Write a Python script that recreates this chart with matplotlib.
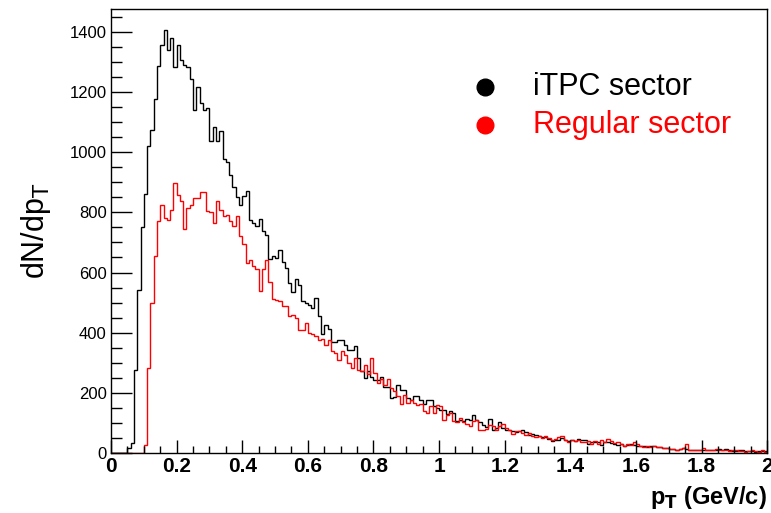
import numpy as np
import matplotlib
matplotlib.use("Agg")
import matplotlib.pyplot as plt
from matplotlib.ticker import MultipleLocator

# ----------------------------
# Data (counts per 0.01 GeV/c bin)
# ----------------------------
PT_MIN, PT_MAX, N_BINS = 0.0, 2.0, 200

itpc_counts = [
    0, 0, 0, 0, 0, 17, 33, 275, 541, 750,
    861, 1020, 1073, 1178, 1288, 1356, 1407, 1341, 1380, 1284,
    1356, 1308, 1290, 1284, 1242, 1140, 1217, 1164, 1140, 1147,
    1037, 1084, 1037, 1070, 978, 967, 925, 883, 850, 823,
    853, 870, 774, 765, 754, 778, 737, 726, 645, 656,
    649, 674, 634, 615, 565, 534, 579, 560, 504, 499,
    493, 482, 515, 455, 397, 424, 412, 368, 368, 375,
    375, 360, 341, 341, 357, 316, 271, 249, 271, 253,
    244, 244, 253, 220, 220, 183, 186, 227, 211, 211,
    183, 177, 188, 191, 177, 164, 175, 175, 157, 150,
    144, 142, 131, 139, 133, 105, 111, 105, 113, 111,
    127, 109, 102, 94, 86, 113, 75, 83, 102, 83,
    78, 75, 72, 69, 74, 78, 69, 61, 64, 61,
    58, 53, 53, 47, 39, 44, 42, 50, 44, 39,
    42, 39, 47, 44, 42, 31, 35, 35, 35, 28,
    35, 38, 33, 31, 28, 31, 24, 28, 31, 28,
    24, 22, 24, 20, 22, 22, 20, 20, 17, 17,
    13, 13, 11, 13, 17, 13, 11, 11, 9, 11,
    9, 11, 11, 9, 11, 13, 11, 13, 11, 8,
    6, 9, 11, 6, 8, 6, 3, 8, 6, 8,
]

regular_counts = [
    0, 0, 0, 0, 0, 0, 0, 0, 0, 0,
    28, 283, 497, 656, 770, 826, 782, 776, 809, 898,
    859, 837, 745, 815, 826, 848, 848, 868, 868, 804,
    800, 763, 837, 809, 787, 792, 770, 754, 787, 721,
    696, 632, 641, 621, 612, 538, 612, 641, 568, 512,
    508, 504, 488, 488, 457, 460, 449, 410, 410, 432,
    399, 397, 388, 377, 379, 360, 375, 338, 333, 308,
    338, 327, 299, 283, 316, 277, 272, 294, 261, 316,
    266, 233, 246, 227, 246, 216, 205, 188, 164, 194,
    166, 177, 166, 161, 164, 139, 133, 155, 133, 161,
    155, 111, 127, 133, 105, 102, 116, 102, 98, 91,
    105, 109, 78, 78, 80, 94, 89, 75, 91, 98,
    83, 78, 64, 72, 72, 67, 61, 67, 58, 53,
    55, 50, 55, 50, 42, 47, 53, 58, 44, 35,
    42, 39, 42, 35, 35, 39, 31, 39, 31, 42,
    35, 47, 39, 33, 35, 31, 24, 31, 28, 35,
    31, 24, 20, 22, 20, 22, 20, 20, 17, 17,
    13, 13, 11, 14, 17, 31, 11, 9, 11, 11,
    17, 9, 9, 11, 13, 9, 11, 9, 6, 9,
    11, 8, 6, 3, 6, 9, 6, 3, 9, 3,
]

legend_labels = ["iTPC sector", "Regular sector"]
series_colors = ["black", "red"]

# ----------------------------
# Plot
# ----------------------------
plt.rcParams["font.family"] = ["Liberation Sans", "DejaVu Sans"]

fig = plt.figure(figsize=(7.71, 5.13), dpi=100)
ax = fig.add_axes([0.144, 0.117, 0.851, 0.866])

edges = np.linspace(PT_MIN, PT_MAX, N_BINS + 1)
ax.stairs(itpc_counts, edges, color=series_colors[0], linewidth=1.0, baseline=0)
ax.stairs(regular_counts, edges, color=series_colors[1], linewidth=1.0, baseline=0)

ax.set_xlim(PT_MIN, PT_MAX)
ax.set_ylim(0, 1477)

ax.xaxis.set_major_locator(MultipleLocator(0.2))
ax.xaxis.set_minor_locator(MultipleLocator(0.05))
ax.yaxis.set_major_locator(MultipleLocator(200))
ax.yaxis.set_minor_locator(MultipleLocator(50))

ax.tick_params(axis="both", which="both", direction="in", top=False, right=False, color="black")
ax.tick_params(axis="y", which="major", length=15, width=1.0, labelsize=12, pad=3)
ax.tick_params(axis="y", which="minor", length=8, width=1.0)
ax.tick_params(axis="x", which="major", length=9.5, width=1.0, labelsize=15, pad=3)
ax.tick_params(axis="x", which="minor", length=5, width=1.0)

ax.set_xticklabels([f"{v:g}" for v in ax.get_xticks()], fontweight="bold")

for s in ax.spines.values():
    s.set_linewidth(1.0)

ax.set_xlabel("p$_\\mathbf{T}$ (GeV/c)", fontsize=17, fontweight="bold", loc="right", labelpad=6)
ax.set_ylabel("dN/dp$_\\mathrm{T}$", fontsize=22, labelpad=12)

# legend drawn as dots + text like the original
for i, (lab, col) in enumerate(zip(legend_labels, series_colors)):
    ypos = 0.824 - i * 0.086
    ax.plot([0.570], [ypos], "o", color=col, markersize=12, transform=ax.transAxes, clip_on=False)
    ax.text(0.643, ypos, lab, color=col, fontsize=22, va="center", ha="left", transform=ax.transAxes)

fig.savefig("out.png", dpi=100)
